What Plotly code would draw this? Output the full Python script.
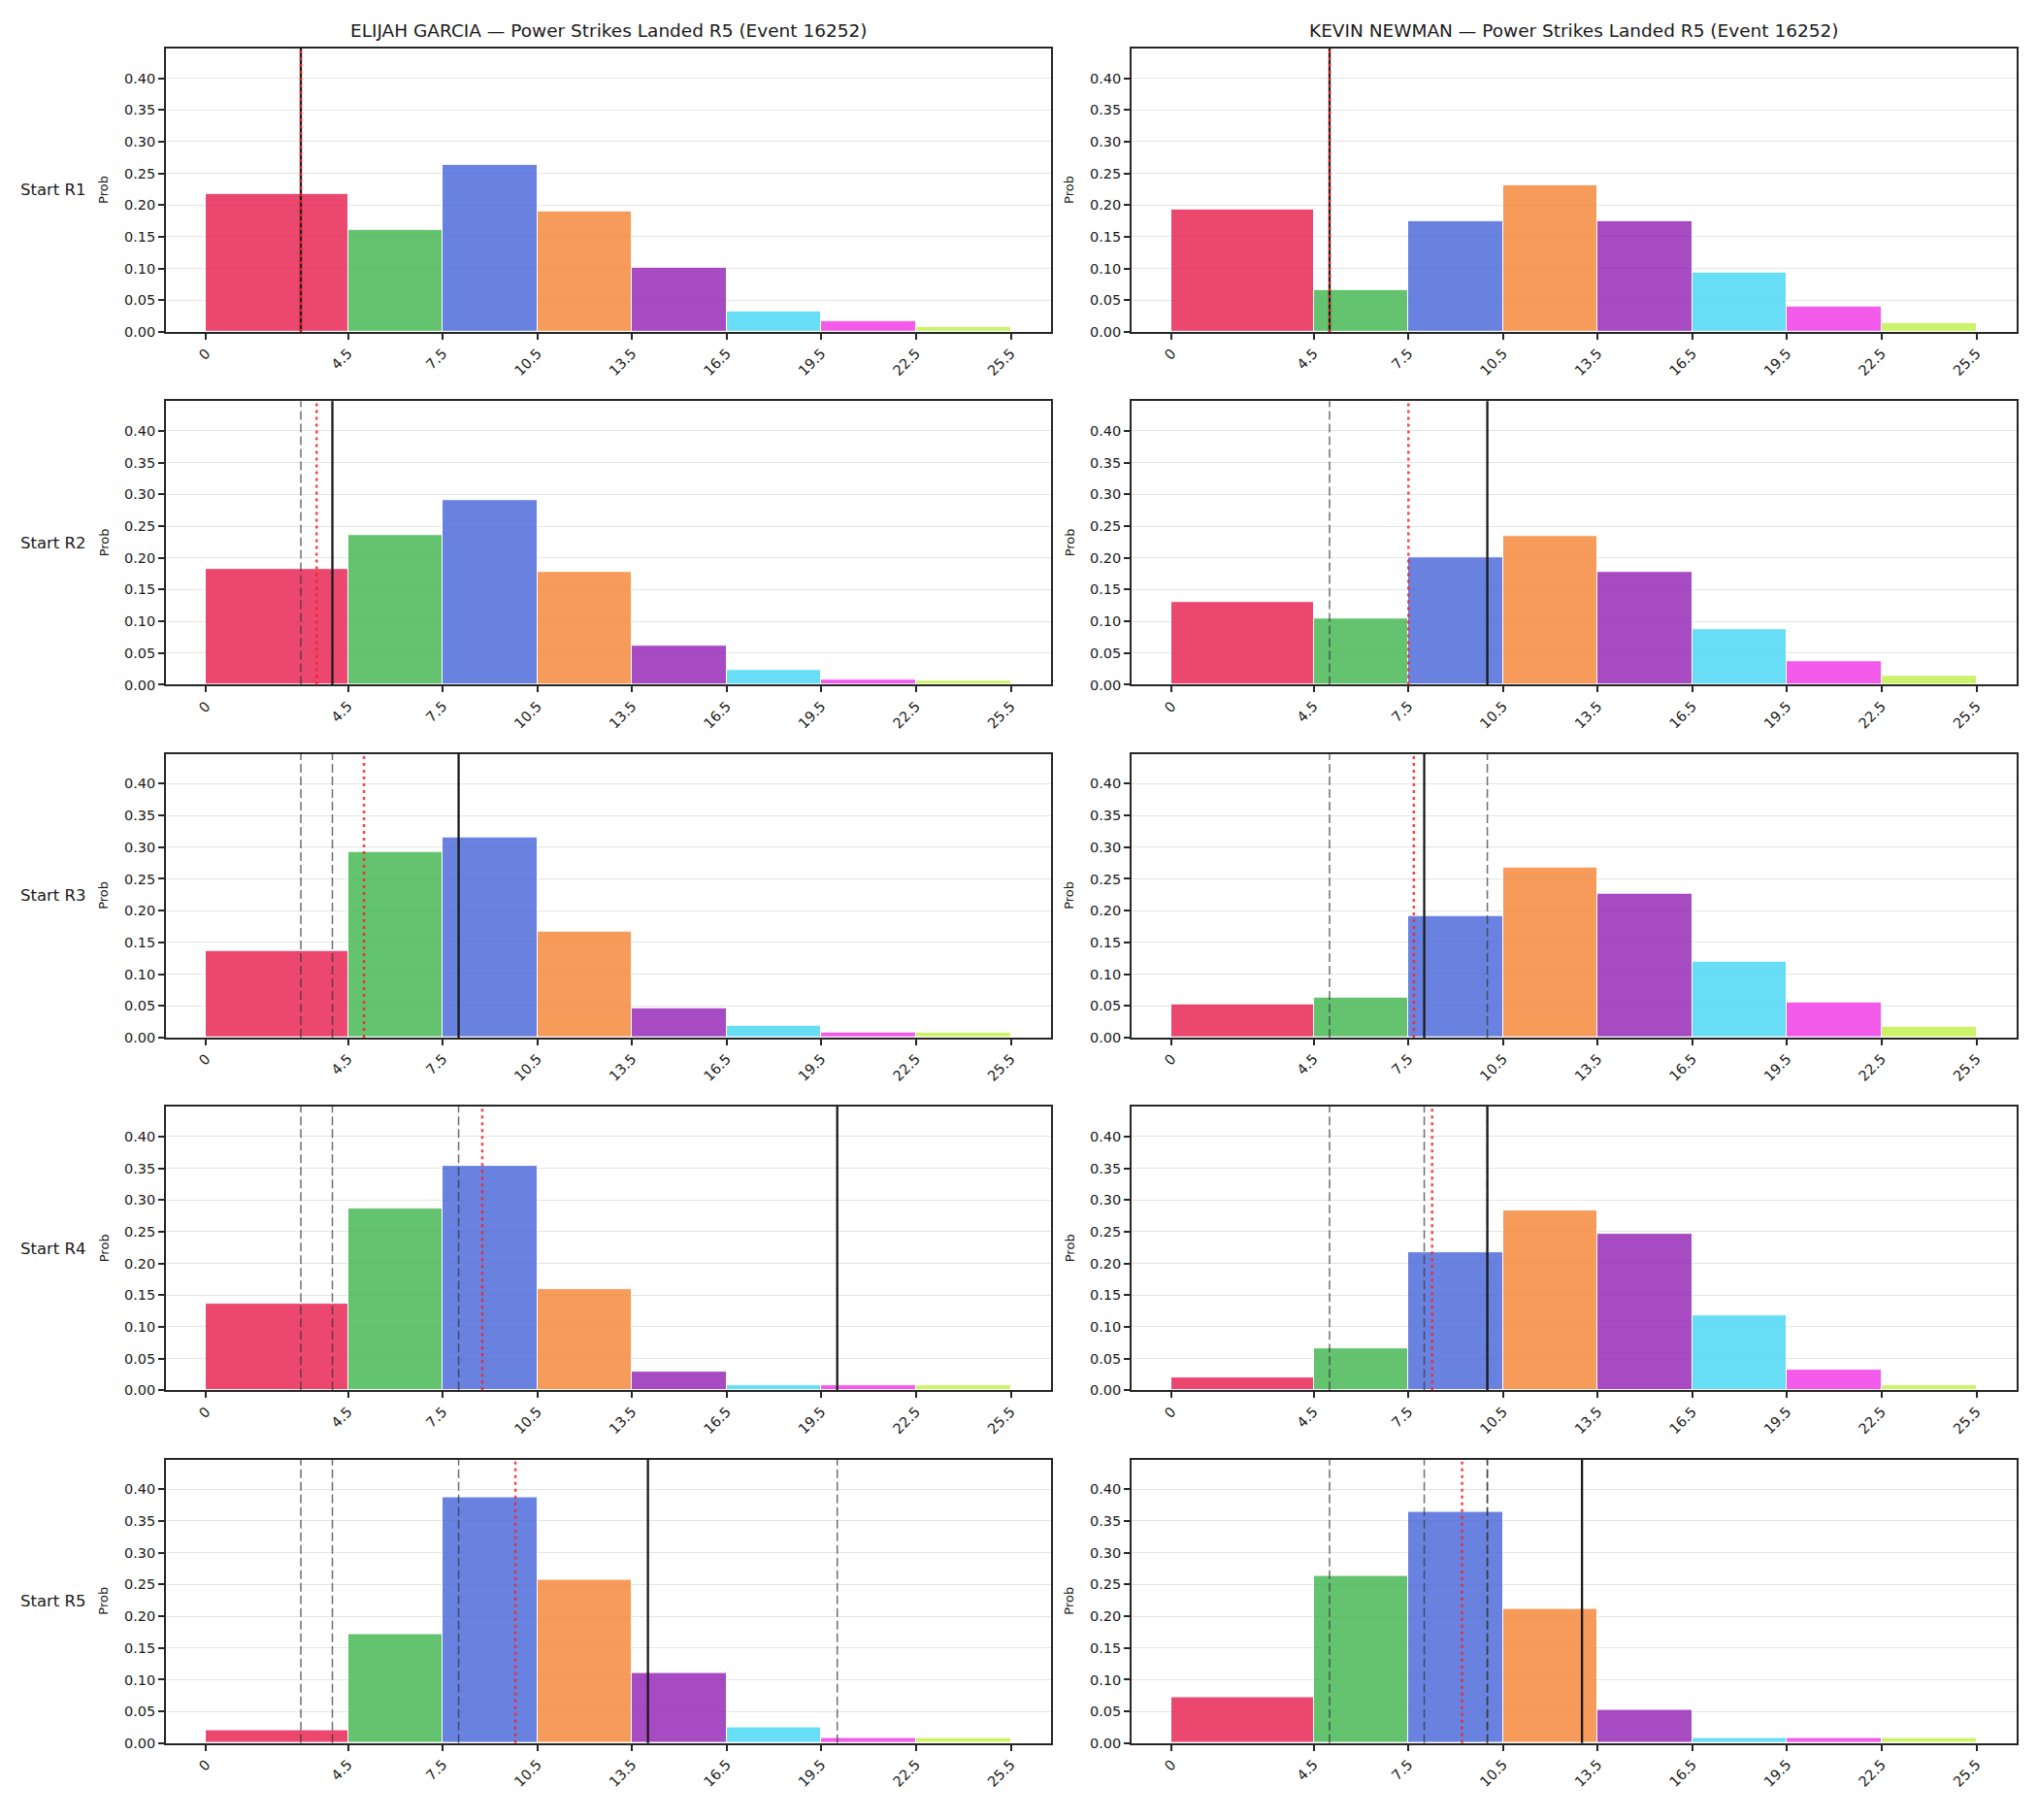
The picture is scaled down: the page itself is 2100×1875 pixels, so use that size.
import numpy as np
import plotly.graph_objects as go

# ---------------- data ----------------
bin_edges = [0, 4.5, 7.5, 10.5, 13.5, 16.5, 19.5, 22.5, 25.5]
tick_labels = ["0", "4.5", "7.5", "10.5", "13.5", "16.5", "19.5", "22.5", "25.5"]
row_labels = ["Start R1", "Start R2", "Start R3", "Start R4", "Start R5"]
fighters = ["ELIJAH GARCIA", "KEVIN NEWMAN"]
title_suffix = " — Power Strikes Landed R5 (Event 16252)"

elijah_r1 = [0.218, 0.161, 0.263, 0.190, 0.101, 0.032, 0.017, 0.008]
elijah_r2 = [0.183, 0.236, 0.291, 0.178, 0.061, 0.023, 0.008, 0.007]
elijah_r3 = [0.136, 0.293, 0.315, 0.167, 0.046, 0.018, 0.008, 0.008]
elijah_r4 = [0.136, 0.287, 0.354, 0.159, 0.030, 0.008, 0.008, 0.008]
elijah_r5 = [0.020, 0.172, 0.388, 0.257, 0.111, 0.025, 0.008, 0.008]

kevin_r1 = [0.193, 0.066, 0.175, 0.231, 0.175, 0.094, 0.040, 0.014]
kevin_r2 = [0.131, 0.104, 0.200, 0.234, 0.178, 0.088, 0.037, 0.014]
kevin_r3 = [0.052, 0.063, 0.191, 0.268, 0.226, 0.119, 0.055, 0.017]
kevin_r4 = [0.021, 0.066, 0.217, 0.284, 0.246, 0.118, 0.033, 0.008]
kevin_r5 = [0.073, 0.263, 0.364, 0.212, 0.052, 0.008, 0.008, 0.008]

# observed value at each round (solid = current, dashed = earlier rounds)
elijah_actual = [3, 4, 8, 20, 14]
kevin_actual = [5, 10, 8, 10, 13]
# running average line (red dotted)
elijah_avg = [3.0, 3.5, 5.0, 8.75, 9.8]
kevin_avg = [5.0, 7.5, 7.67, 8.25, 9.2]

bin_colors = ["rgba(230,25,75,0.8)", "rgba(60,180,75,0.8)", "rgba(67,99,216,0.8)",
              "rgba(245,130,49,0.8)", "rgba(145,30,180,0.8)", "rgba(66,212,244,0.8)",
              "rgba(240,50,230,0.8)", "rgba(191,239,69,0.8)"]

probs = [[elijah_r1, elijah_r2, elijah_r3, elijah_r4, elijah_r5],
         [kevin_r1, kevin_r2, kevin_r3, kevin_r4, kevin_r5]]
actuals = [elijah_actual, kevin_actual]
avgs = [elijah_avg, kevin_avg]

# ---------------- layout geometry ----------------
W, H = 2100, 1875
col_px = [(171, 1083), (1166, 2078)]
row_top0, row_step, row_h = 50, 365, 293.5

FONT = "DejaVu Sans"
fig = go.Figure()
layout = dict(width=W, height=H, margin=dict(l=0, r=0, t=0, b=0),
              paper_bgcolor="white", plot_bgcolor="white",
              font=dict(family=FONT, color="#1a1a1a"), showlegend=False,
              bargap=0)
shapes, annotations = [], []

edges = np.array(bin_edges)
widths = np.diff(edges)

idx = 0
for r in range(5):
    top = row_top0 + row_step * r
    bot = top + row_h
    ydom = [1 - bot / H, 1 - top / H]
    for c in range(2):
        idx += 1
        xa = "x" if idx == 1 else f"x{idx}"
        ya = "y" if idx == 1 else f"y{idx}"
        xkey = "xaxis" if idx == 1 else f"xaxis{idx}"
        ykey = "yaxis" if idx == 1 else f"yaxis{idx}"
        fig.add_trace(go.Bar(x=edges[:-1], y=probs[c][r], width=widths, offset=0,
                             marker=dict(color=bin_colors, line=dict(color="white", width=1)),
                             xaxis=xa, yaxis=ya, showlegend=False, hoverinfo="x+y"))
        layout[xkey] = dict(domain=[col_px[c][0] / W, col_px[c][1] / W], anchor=ya,
                            range=[-1.275, 26.775], tickmode="array", tickvals=bin_edges,
                            ticktext=tick_labels, tickangle=-45, ticks="outside", ticklen=6,
                            tickwidth=1.5, tickcolor="#262626", showline=True, mirror=True,
                            linecolor="#262626", linewidth=1.7, showgrid=False, zeroline=False,
                            tickfont=dict(family=FONT, size=14.5, color="#1a1a1a"))
        layout[ykey] = dict(domain=ydom, anchor=xa, range=[0, 0.447], tickmode="array",
                            tickvals=[0, 0.05, 0.1, 0.15, 0.2, 0.25, 0.3, 0.35, 0.4],
                            tickformat=".2f", ticks="outside", ticklen=6, tickwidth=1.5,
                            tickcolor="#262626", showline=True, mirror=True,
                            linecolor="#262626", linewidth=1.7, showgrid=True,
                            gridcolor="#e4e4e4", gridwidth=1, zeroline=False,
                            tickfont=dict(family=FONT, size=14.5, color="#1a1a1a"))
        # earlier rounds: dashed
        for v in actuals[c][:r]:
            shapes.append(dict(type="line", xref=xa, yref=f"{ya} domain", x0=v, x1=v, y0=0, y1=1,
                               line=dict(color="rgba(50,50,50,0.7)", width=1.5, dash="9px,4px")))
        # current round: solid
        v = actuals[c][r]
        shapes.append(dict(type="line", xref=xa, yref=f"{ya} domain", x0=v, x1=v, y0=0, y1=1,
                           line=dict(color="#1a1a1a", width=2.3)))
        # running average: red dotted
        v = avgs[c][r]
        shapes.append(dict(type="line", xref=xa, yref=f"{ya} domain", x0=v, x1=v, y0=0, y1=1,
                           line=dict(color="rgba(255,30,30,0.85)", width=2.5, dash="3px,4px")))
        # Prob label
        annotations.append(dict(text="Prob", xref="paper", yref="paper",
                                x=(col_px[c][0] - 64) / W, y=1 - (top + row_h / 2) / H,
                                xanchor="center", yanchor="middle", textangle=-90,
                                showarrow=False, font=dict(family=FONT, size=13, color="#1a1a1a")))
    # row label
    annotations.append(dict(text=row_labels[r], xref="paper", yref="paper",
                            x=91 / W, y=1 - (top + row_h / 2) / H, xanchor="right",
                            yanchor="middle", showarrow=False,
                            font=dict(family=FONT, size=16.5, color="#1a1a1a")))

for c in range(2):
    annotations.append(dict(text=fighters[c] + title_suffix, xref="paper", yref="paper",
                            x=(col_px[c][0] + col_px[c][1]) / 2 / W, y=1 - 32 / H,
                            xanchor="center", yanchor="middle", showarrow=False,
                            font=dict(family=FONT, size=18.5, color="#1a1a1a")))

layout["shapes"] = shapes
layout["annotations"] = annotations
fig.update_layout(**layout)
fig.write_html("out.html")
